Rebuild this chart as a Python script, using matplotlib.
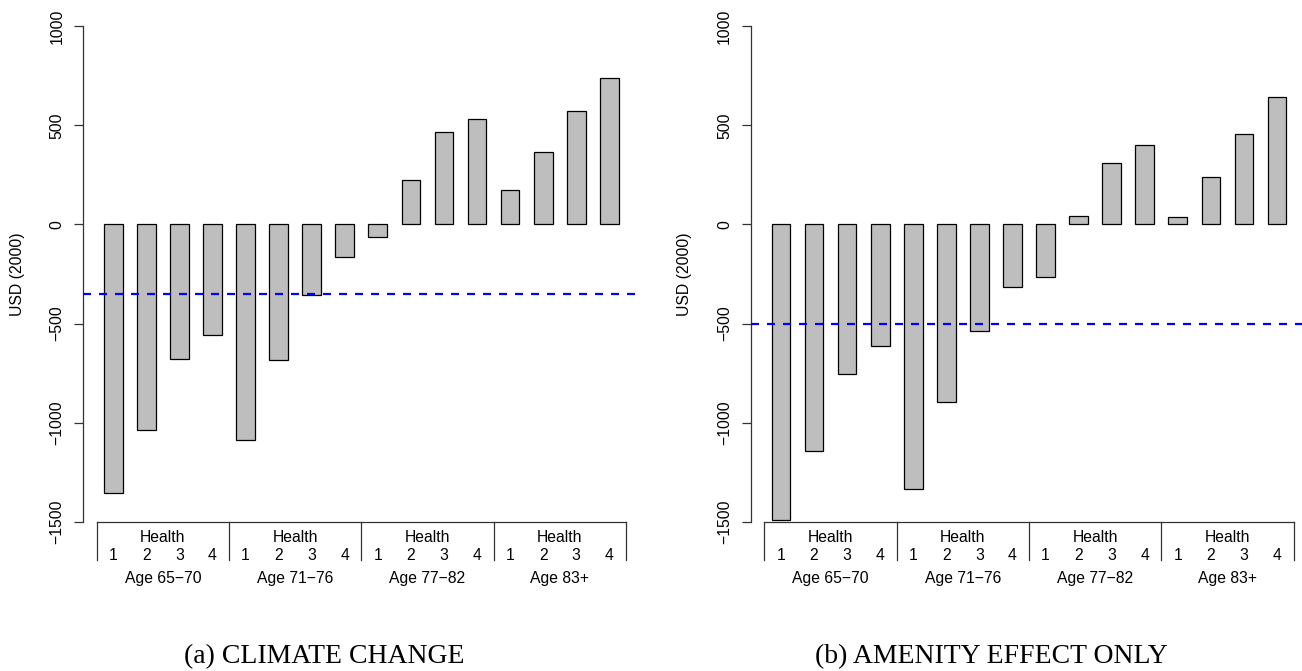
import matplotlib
matplotlib.use('Agg')
import matplotlib.pyplot as plt
import matplotlib.transforms as mtransforms
import numpy as np

# bar values, USD (2000): 4 age groups x 4 health states
climate_vals = [-1356, -1037, -677, -556, -1087, -682, -356, -162,
                -63, 223, 467, 534, 174, 364, 573, 738]
amenity_vals = [-1489, -1141, -753, -611, -1334, -896, -536, -314,
                -265, 44, 310, 400, 36, 240, 458, 645]
climate_ref = -352
amenity_ref = -504

age_groups = ['Age 65\u221270', 'Age 71\u221276', 'Age 77\u221282', 'Age 83+']
health_levels = ['1', '2', '3', '4']
yticks = [-1500, -1000, -500, 0, 500, 1000]
captions = ['(a) CLIMATE CHANGE', '(b) AMENITY EFFECT ONLY']

plt.rcParams['font.family'] = ['Liberation Sans', 'DejaVu Sans']

W, H = 1302, 671
fig = plt.figure(figsize=(W / 100, H / 100), dpi=100)

ax_h = (521.7 - 26.3) / H
ax_b = (671 - 521.7) / H
ax_w = 556 / W


def draw_panel(ax, vals, ref):
    n = len(vals)
    x = np.arange(n)
    ax.bar(x, vals, width=0.567, color='#bebebe', edgecolor='black',
           linewidth=0.9, zorder=2)
    ax.axhline(ref, color='blue', lw=1.6, linestyle=(0, (3.6, 3.6)), zorder=3)
    ax.set_xlim(-0.906, n - 1 + 0.906)
    ax.set_ylim(-1500, 1000)
    for s in ['top', 'right', 'bottom']:
        ax.spines[s].set_visible(False)
    ax.spines['left'].set_color('#333333')
    ax.spines['left'].set_linewidth(0.9)
    ax.set_xticks([])
    ax.set_yticks(yticks)
    ax.set_yticklabels([str(t).replace('-', '\u2212') for t in yticks])
    ax.tick_params(axis='y', length=6.7, width=0.9, color='#333333',
                   pad=6.8, labelsize=11.3, labelrotation=90)
    for lab in ax.get_yticklabels():
        lab.set_va('center')

    # group label boxes under the bars
    tr = ax.get_xaxis_transform()
    ng = len(age_groups)
    nh = len(health_levels)
    edges = np.arange(ng + 1) * nh - 0.5
    ax.plot([edges[0], edges[-1]], [0, 0], transform=tr, color='#333333',
            lw=0.9, clip_on=False)
    drop = 38.3 / (ax_h * H)
    for e in edges:
        ax.plot([e, e], [0, -drop], transform=tr, color='#333333', lw=0.9,
                clip_on=False)
    t_health = mtransforms.offset_copy(tr, fig=fig, y=-20.3, units='dots')
    t_num = mtransforms.offset_copy(tr, fig=fig, y=-38.0, units='dots')
    t_age = mtransforms.offset_copy(tr, fig=fig, y=-61.5, units='dots')
    for g, name in enumerate(age_groups):
        mid = g * nh + (nh - 1) / 2
        ax.text(mid, 0, 'Health', transform=t_health, ha='center',
                va='baseline', fontsize=11.3, clip_on=False)
        ax.text(mid, 0, name, transform=t_age, ha='center',
                va='baseline', fontsize=11.3, clip_on=False)
        for h, lvl in enumerate(health_levels):
            ax.text(g * nh + h, 0, lvl, transform=t_num, ha='center',
                    va='baseline', fontsize=11.3, clip_on=False)


ax1 = fig.add_axes([83.3 / W, ax_b, ax_w, ax_h])
ax2 = fig.add_axes([751 / W, ax_b, ax_w, ax_h])
draw_panel(ax1, climate_vals, climate_ref)
draw_panel(ax2, amenity_vals, amenity_ref)

for xpx in [17.5, 685]:
    fig.text(xpx / W, (671 - 274) / H, 'USD (2000)', rotation=90,
             ha='center', va='center', fontsize=11.3)

for xc, cap in zip([324.5, 991.7], captions):
    fig.text(xc / W, (671 - 663.3) / H, cap, ha='center', va='baseline',
             fontsize=20, family=['Liberation Serif', 'DejaVu Serif'])

fig.savefig('out.png', dpi=100)
